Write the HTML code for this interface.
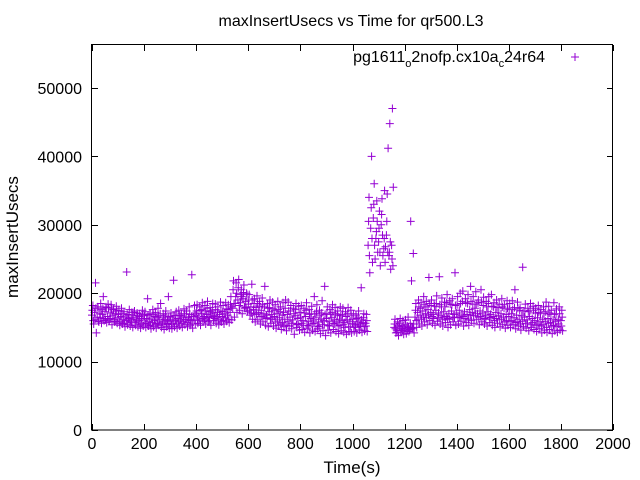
<!DOCTYPE html>
<html><head><meta charset="utf-8"><style>
body{margin:0;background:#fff}
svg{display:block;font-family:"Liberation Sans",sans-serif}
</style></head><body>
<svg id="chart" width="640" height="480" viewBox="0 0 640 480">
<text x="351" y="26" font-size="16" text-anchor="middle">maxInsertUsecs vs Time for qr500.L3</text>
<text transform="translate(18,237) rotate(-90)" font-size="17" text-anchor="middle">maxInsertUsecs</text>
<text x="352" y="473" font-size="17" text-anchor="middle">Time(s)</text>
<g>
<text x="545" y="62" font-size="16" text-anchor="end">pg1611<tspan font-size="11" dy="5">o</tspan><tspan dy="-5">2nofp.cx10a</tspan><tspan font-size="11" dy="5">c</tspan><tspan dy="-5">24r64</tspan></text>
<path d="M571,57h8M575,53v8" stroke="#9400d3" stroke-width="1"/>
</g>
<g id="axes"></g>
<g id="points"></g>
<rect x="91.5" y="44.5" width="521" height="385.5" fill="none" stroke="#000" stroke-width="1"/>
</svg>
<script>
const xTicks=[0,200,400,600,800,1000,1200,1400,1600,1800,2000];
const yTicks=[0,10000,20000,30000,40000,50000];
const times=[];for(let t=0;t<=1800;t+=10)times.push(t);
const yA=[16.8,17.2,16.5,17.0,16.9,17.3,16.6,17.1,16.8,17.0,
16.4,16.6,16.2,16.5,16.3,16.1,16.4,16.2,16.0,16.3,
16.1,16.3,15.9,16.2,16.0,16.4,16.1,15.8,16.2,16.0,
15.9,16.2,16.0,16.3,16.1,16.5,16.2,16.4,16.0,16.6,
16.8,16.5,17.0,16.6,16.9,16.4,17.1,16.7,16.5,16.9,
16.6,17.0,16.8,17.2,17.8,18.5,19.0,18.6,19.2,18.8,
18.4,18.0,17.6,17.9,17.2,17.5,17.0,16.8,17.3,16.9,
16.6,17.0,16.4,16.8,16.2,16.9,16.5,16.1,16.7,16.3,
16.4,16.0,16.6,15.9,16.3,16.1,16.5,15.8,16.2,16.0,
16.3,15.9,16.4,16.1,15.8,16.2,16.0,15.7,16.1,15.9,
15.6,15.4,15.8,15.5,15.7,15.6,27.0,29.5,31.0,28.0,
27.5,30.0,26.5,28.5,25.5,27.0,15.0,14.6,15.1,14.8,
14.9,15.2,14.7,15.0,16.5,17.2,16.8,17.4,17.0,17.6,
17.2,16.9,17.5,17.1,16.8,17.3,16.6,17.0,17.4,16.9,
17.1,17.5,16.8,17.3,16.9,17.6,17.2,17.8,17.0,17.4,
17.1,16.8,17.3,16.9,16.6,17.2,16.7,17.0,16.5,16.9,
16.6,17.0,16.4,16.8,16.2,16.7,16.5,16.1,16.6,16.3,
16.0,16.4,15.8,16.2,15.9,16.3,15.7,16.1,15.9,16.2,16.0];
const yB=[18.2,21.5,17.8,18.5,19.5,18.0,17.9,18.3,17.7,18.1,
17.5,17.8,17.3,23.1,17.6,17.2,17.4,17.1,17.0,17.5,
17.3,19.2,17.0,17.6,17.2,17.8,18.5,17.0,17.4,19.5,
17.1,21.9,17.3,17.5,17.0,17.7,17.4,18.0,22.7,18.2,
18.3,18.0,18.6,18.2,18.8,17.9,18.5,18.4,18.0,18.7,
18.2,18.6,18.3,19.5,21.8,21.5,22.0,20.5,21.2,20.0,
19.8,21.3,19.2,19.6,18.8,19.3,21.0,18.5,19.0,18.7,
18.3,18.8,18.0,18.6,19.0,18.7,18.2,17.8,18.5,18.1,
18.2,17.8,18.6,17.6,18.1,19.5,18.3,17.5,18.9,21.0,
18.0,17.6,18.3,17.9,17.4,18.0,17.8,17.3,17.9,17.5,
17.0,16.8,17.4,20.8,17.0,16.9,34.0,40.0,36.0,33.5,
32.0,33.8,35.0,34.5,44.8,47.0,16.2,15.8,16.3,16.0,
16.1,16.5,30.5,25.8,18.5,19.0,18.6,19.5,18.8,22.3,
19.0,18.5,19.6,22.4,19.3,18.7,19.8,18.9,19.2,23.0,
19.5,20.0,20.3,19.2,19.8,21.0,19.5,20.2,19.0,20.5,
19.4,18.8,19.5,19.8,18.6,19.0,18.4,19.2,18.3,18.9,
18.5,18.9,20.5,18.7,17.9,23.8,18.4,17.8,18.5,18.1,
17.8,18.2,17.6,18.0,18.7,18.1,17.5,18.6,17.7,18.0,17.5];
const yC=[15.5,14.2,15.8,15.6,16.0,15.7,15.9,15.4,15.8,15.6,
15.3,15.5,15.1,15.4,15.2,15.0,15.3,15.1,14.9,15.2,
15.0,15.2,14.8,15.1,14.9,15.3,15.0,14.7,15.1,14.9,
14.8,15.1,14.9,15.2,15.0,15.4,15.1,15.3,14.9,15.5,
15.6,15.3,15.9,15.5,15.8,15.3,16.0,15.6,15.4,15.8,
15.5,15.9,15.7,16.1,16.5,17.2,17.5,17.0,17.8,17.3,
16.8,16.2,15.8,16.1,15.5,15.8,15.3,15.1,15.6,15.2,
14.9,15.3,14.7,15.1,14.5,15.2,14.8,14.0,15.0,14.6,
14.7,14.3,14.9,14.2,14.6,14.4,14.8,14.1,14.5,13.8,
14.6,14.2,14.7,14.4,14.1,14.5,14.3,14.0,14.4,14.2,
14.4,14.2,14.6,14.3,14.5,14.4,23.0,24.5,25.0,26.0,
24.0,25.5,26.8,41.2,23.5,35.5,14.2,13.8,14.3,14.0,
14.1,14.4,21.8,14.2,15.0,15.5,15.2,15.8,15.4,16.0,
15.6,15.3,15.9,15.5,15.2,15.7,15.0,15.4,15.8,15.3,
15.5,15.9,15.2,15.7,15.3,16.0,15.6,16.2,15.4,15.8,
15.5,15.2,15.7,15.3,15.0,15.6,15.1,15.4,14.9,15.3,
15.0,15.4,14.8,15.2,14.6,15.1,14.9,14.5,15.0,14.7,
14.4,14.8,14.2,14.6,14.3,14.7,14.1,14.5,14.3,14.6,14.5];
const yD=[17.5,16.2,18.0,16.4,17.8,16.1,18.4,16.3,17.6,15.9,
16.9,15.8,17.0,16.0,16.8,15.7,17.2,15.9,16.6,15.6,
16.7,15.5,16.9,15.7,16.6,15.6,17.0,15.4,16.8,15.5,
16.5,15.6,16.8,15.8,16.7,15.9,17.0,16.1,16.6,16.2,
17.4,16.0,17.6,16.2,17.8,16.0,17.5,16.3,17.2,16.1,
17.3,16.4,17.6,18.3,20.5,19.5,20.8,19.8,20.1,17.9,
19.0,17.1,18.5,16.9,18.1,16.6,18.0,16.3,17.9,16.4,
17.5,16.1,17.3,15.7,17.8,15.9,17.4,15.6,17.6,15.5,
17.2,15.3,17.5,15.2,17.0,15.6,17.3,15.1,17.1,15.4,
17.0,15.2,17.2,15.5,16.8,15.3,16.9,15.0,17.0,15.1,
16.2,15.0,16.5,15.1,16.4,15.2,30.5,32.5,33.0,29.0,
29.5,31.5,28.0,30.5,26.0,25.0,15.5,14.3,15.6,14.5,
15.4,14.6,15.6,14.8,17.5,16.2,17.8,16.5,18.0,16.8,
18.2,16.3,18.5,16.4,18.0,16.5,18.6,16.2,18.3,16.4,
18.3,16.5,18.8,16.3,18.5,16.8,18.4,17.0,18.6,16.6,
18.2,16.2,18.5,16.4,18.0,16.3,17.9,16.2,17.8,16.0,
17.6,16.0,17.9,15.8,17.5,15.9,17.4,15.6,17.5,15.7,
17.1,15.5,17.0,15.4,17.3,15.6,16.9,15.3,17.0,15.5,15.2];
const yE=[16.0,17.8,15.9,17.6,16.3,17.9,16.1,17.7,16.2,17.4,
15.8,17.0,15.6,16.9,15.9,16.8,15.7,16.7,15.4,16.9,
15.6,16.8,15.3,16.9,15.5,16.7,15.4,16.5,15.6,16.6,
15.4,16.7,15.5,16.8,15.6,17.0,15.7,16.9,15.5,17.1,
16.2,17.5,16.3,17.4,16.5,17.3,16.6,17.6,16.1,17.4,
16.0,17.7,16.2,18.0,18.5,20.0,18.2,19.5,18.0,19.8,
17.5,19.0,17.0,18.5,16.6,18.3,16.4,17.8,16.2,17.7,
15.8,17.6,15.5,17.2,15.3,17.4,15.6,17.0,15.4,17.2,
15.6,17.1,15.3,16.9,15.5,17.0,15.2,16.8,15.4,16.9,
15.3,16.9,15.6,17.0,15.2,16.7,15.4,16.6,15.1,16.8,
15.0,16.3,15.2,16.1,15.1,16.0,25.5,28.0,27.0,30.5,
26.0,28.5,24.5,26.0,27.5,24.0,14.8,15.3,14.5,15.2,
14.6,15.0,14.9,15.5,16.0,18.0,16.2,18.3,16.4,18.5,
16.6,18.1,16.4,18.3,16.2,18.0,16.3,18.4,16.5,18.2,
16.4,18.5,16.6,18.6,16.2,18.8,16.7,18.4,16.5,18.7,
16.3,18.0,16.5,18.1,16.0,17.9,16.2,18.0,15.8,17.8,
15.9,17.6,15.7,17.8,15.5,17.4,15.6,17.3,15.4,17.5,
15.3,17.2,15.2,17.0,15.0,17.1,15.2,16.9,15.1,17.0,16.5];
const X0=92,X1=613,Y0=430;
const sx=v=>X0+(v/2000)*(X1-X0);
const sy=v=>Y0-(v/50000)*342;
const NS="http://www.w3.org/2000/svg";
const axes=document.getElementById('axes');
xTicks.forEach(t=>{
 const x=Math.round(sx(t))+0.5;
 const p=document.createElementNS(NS,'path');
 p.setAttribute('d',`M${x},430v-6M${x},45v6`);p.setAttribute('stroke','#000');
 
 
 axes.appendChild(p);
 const l=document.createElementNS(NS,'text');
 l.setAttribute('x',sx(t));l.setAttribute('y',449);l.setAttribute('font-size','16');l.setAttribute('text-anchor','middle');
 l.textContent=t;
 
 
 axes.appendChild(l);
});
yTicks.forEach(t=>{
 const y=Math.round(sy(t))+0.5;
 const p=document.createElementNS(NS,'path');
 p.setAttribute('d',`M92,${y}h6M613,${y}h-6`);p.setAttribute('stroke','#000');
 
 
 axes.appendChild(p);
 const l=document.createElementNS(NS,'text');
 l.setAttribute('x',82);l.setAttribute('y',sy(t)+6);l.setAttribute('font-size','16');l.setAttribute('text-anchor','end');
 l.textContent=t;
 
 
 axes.appendChild(l);
});
const pts=document.getElementById('points');
let d='';
[[yA,0],[yD,1.7],[yB,3.3],[yE,5.0],[yC,6.6]].forEach(([arr,off])=>{
 arr.forEach((v,i)=>{
  const x=sx(times[i]+off),y=sy(v*1000);
  d+=`M${(x-4).toFixed(1)},${y.toFixed(1)}h8M${x.toFixed(1)},${(y-4).toFixed(1)}v8`;
 });
});
const path=document.createElementNS(NS,'path');
path.setAttribute('d',d);path.setAttribute('stroke','#9400d3');path.setAttribute('stroke-width','1');path.setAttribute('fill','none');


pts.appendChild(path);
</script>
</body></html>
